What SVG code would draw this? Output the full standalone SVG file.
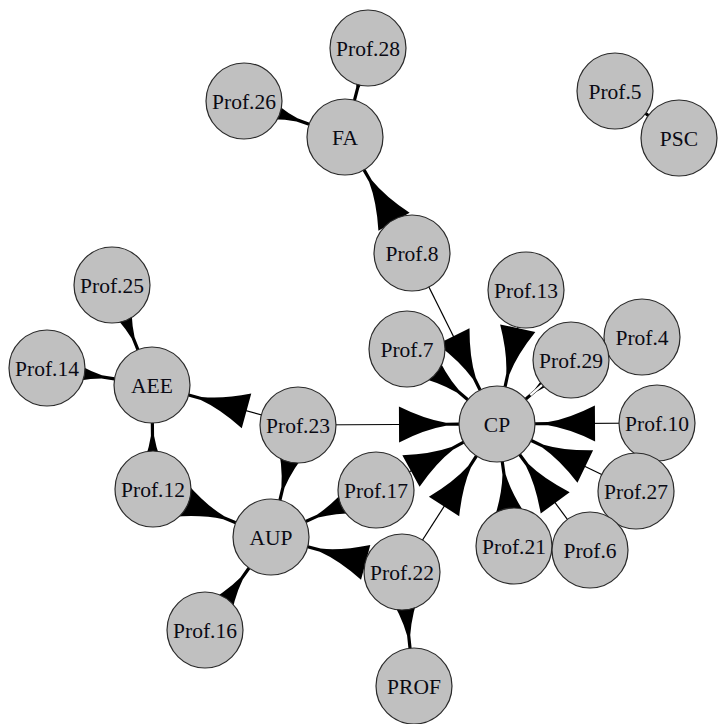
<svg xmlns="http://www.w3.org/2000/svg" width="719" height="724" viewBox="0 0 719 724">
<style>
.e{stroke:#000;stroke-width:1.2;marker-end:url(#ah)}
.n circle{fill:#C0C0C0;stroke:#2a2a2a;stroke-width:1.2}
.n text{font-family:"Liberation Serif","Times New Roman",serif;font-size:21.5px;fill:#0a0a14;text-anchor:middle}
</style>
<defs>
<marker id="ah" viewBox="-100 -20 100 40" refX="0" refY="0" markerWidth="100" markerHeight="40" markerUnits="userSpaceOnUse" orient="auto" overflow="visible">
<path d="M-98,-18 Q-72,-5 -51,-1.6 L-38,-1.6 L-38,1.6 L-51,1.6 Q-72,5 -98,18 Z" fill="#000"/>
</marker>
</defs>
<rect width="719" height="724" fill="#fff"/>
<g id="edges">
<line class="e" x1="368" y1="48" x2="345" y2="137"/>
<line class="e" x1="244" y1="101" x2="345" y2="137"/>
<line class="e" x1="412" y1="253" x2="345" y2="137"/>
<line class="e" x1="615" y1="91" x2="679" y2="138"/>
<line class="e" x1="112" y1="285" x2="152" y2="385"/>
<line class="e" x1="47" y1="368" x2="152" y2="385"/>
<line class="e" x1="298" y1="425" x2="152" y2="385"/>
<line class="e" x1="153" y1="489" x2="152" y2="385"/>
<line class="e" x1="153" y1="489" x2="271" y2="537"/>
<line class="e" x1="298" y1="425" x2="271" y2="537"/>
<line class="e" x1="376" y1="490" x2="271" y2="537"/>
<line class="e" x1="402" y1="572" x2="271" y2="537"/>
<line class="e" x1="205" y1="630" x2="271" y2="537"/>
<line class="e" x1="402" y1="572" x2="414" y2="686"/>
<line class="e" x1="298" y1="425" x2="497" y2="424"/>
<line class="e" x1="412" y1="253" x2="497" y2="424"/>
<line class="e" x1="407" y1="349" x2="497" y2="424"/>
<line class="e" x1="526" y1="290" x2="497" y2="424"/>
<line class="e" x1="571" y1="360" x2="497" y2="424"/>
<line class="e" x1="657" y1="423" x2="497" y2="424"/>
<line class="e" x1="636" y1="491" x2="497" y2="424"/>
<line class="e" x1="590" y1="550" x2="497" y2="424"/>
<line class="e" x1="514" y1="546" x2="497" y2="424"/>
<line class="e" x1="376" y1="490" x2="497" y2="424"/>
<line class="e" x1="402" y1="572" x2="497" y2="424"/>
<line x1="571" y1="360" x2="530.3" y2="395.2" stroke="#fff" stroke-width="2.4"/>
</g>
<g id="n-Prof4" class="n"><circle cx="642" cy="337" r="38"/><text x="642" y="344.5">Prof.4</text></g>
<g id="n-Prof10" class="n"><circle cx="657" cy="423" r="38"/><text x="657" y="430.5">Prof.10</text></g>
<g id="n-Prof28" class="n"><circle cx="368" cy="48" r="38"/><text x="368" y="55.5">Prof.28</text></g>
<g id="n-Prof26" class="n"><circle cx="244" cy="101" r="38"/><text x="244" y="108.5">Prof.26</text></g>
<g id="n-FA" class="n"><circle cx="345" cy="137" r="38"/><text x="345" y="144.5">FA</text></g>
<g id="n-Prof5" class="n"><circle cx="615" cy="91" r="38"/><text x="615" y="98.5">Prof.5</text></g>
<g id="n-PSC" class="n"><circle cx="679" cy="138" r="38"/><text x="679" y="145.5">PSC</text></g>
<g id="n-Prof8" class="n"><circle cx="412" cy="253" r="38"/><text x="412" y="260.5">Prof.8</text></g>
<g id="n-Prof13" class="n"><circle cx="526" cy="290" r="38"/><text x="526" y="297.5">Prof.13</text></g>
<g id="n-Prof29" class="n"><circle cx="571" cy="360" r="38"/><text x="571" y="367.5">Prof.29</text></g>
<g id="n-Prof25" class="n"><circle cx="112" cy="285" r="38"/><text x="112" y="292.5">Prof.25</text></g>
<g id="n-Prof7" class="n"><circle cx="407" cy="349" r="38"/><text x="407" y="356.5">Prof.7</text></g>
<g id="n-Prof14" class="n"><circle cx="47" cy="368" r="38"/><text x="47" y="375.5">Prof.14</text></g>
<g id="n-AEE" class="n"><circle cx="152" cy="385" r="38"/><text x="152" y="392.5">AEE</text></g>
<g id="n-Prof23" class="n"><circle cx="298" cy="425" r="38"/><text x="298" y="432.5">Prof.23</text></g>
<g id="n-CP" class="n"><circle cx="497" cy="424" r="38"/><text x="497" y="431.5">CP</text></g>
<g id="n-Prof12" class="n"><circle cx="153" cy="489" r="38"/><text x="153" y="496.5">Prof.12</text></g>
<g id="n-Prof17" class="n"><circle cx="376" cy="490" r="38"/><text x="376" y="497.5">Prof.17</text></g>
<g id="n-Prof27" class="n"><circle cx="636" cy="491" r="38"/><text x="636" y="498.5">Prof.27</text></g>
<g id="n-AUP" class="n"><circle cx="271" cy="537" r="38"/><text x="271" y="544.5">AUP</text></g>
<g id="n-Prof22" class="n"><circle cx="402" cy="572" r="38"/><text x="402" y="579.5">Prof.22</text></g>
<g id="n-Prof21" class="n"><circle cx="514" cy="546" r="38"/><text x="514" y="553.5">Prof.21</text></g>
<g id="n-Prof6" class="n"><circle cx="590" cy="550" r="38"/><text x="590" y="557.5">Prof.6</text></g>
<g id="n-Prof16" class="n"><circle cx="205" cy="630" r="38"/><text x="205" y="637.5">Prof.16</text></g>
<g id="n-PROF" class="n"><circle cx="414" cy="686" r="38"/><text x="414" y="693.5">PROF</text></g>
</svg>
